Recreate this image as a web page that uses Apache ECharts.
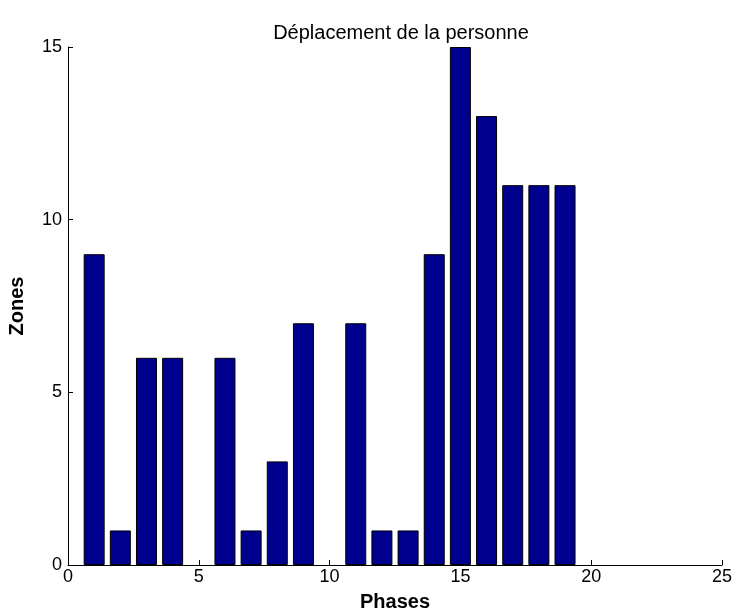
<!DOCTYPE html>
<html>
<head>
<meta charset="utf-8">
<script src="https://cdn.jsdelivr.net/npm/echarts@6/dist/echarts.min.js"></script>
<style>html,body{margin:0;padding:0;background:#fff}#c{width:738px;height:615px}</style>
</head>
<body>
<div id="c"></div>
<script>
var phases = [1,2,3,4,5,6,7,8,9,10,11,12,13,14,15,16,17,18,19];
var zones  = [9,1,6,6,0,6,1,3,7,0,7,1,1,9,15,13,11,11,11];
var xTicks = [0,5,10,15,20,25];
var yTicks = [0,5,10,15];

// zero-height bars draw nothing (as in the reference)
var data = phases.map(function(p,i){ return zones[i] > 0 ? [p, zones[i]] : null; })
                 .filter(function(d){ return d !== null; });
var chart = echarts.init(document.getElementById('c'), null, {renderer:'canvas'});
var font = 'Liberation Sans, Arial, Helvetica, sans-serif';
chart.setOption({
  animation:false,
  backgroundColor:'#fff',
  title:{text:'Déplacement de la personne', left:396, top:18, textAlign:'center',
    textStyle:{fontFamily:font, fontSize:20, fontWeight:'normal', color:'#000'}},
  grid:{left:68, right:16, top:47, bottom:50, containLabel:false, outerBoundsMode:'none'},
  xAxis:{type:'value', min:xTicks[0], max:xTicks[xTicks.length-1], interval:5,
    name:'Phases', nameLocation:'middle', nameGap:27,
    nameTextStyle:{fontFamily:font, fontSize:20, fontWeight:'bold', color:'#000'},
    axisLine:{show:true, lineStyle:{color:'#000', width:1}},
    axisTick:{show:true, inside:true, length:5, lineStyle:{color:'#000'}},
    axisLabel:{fontFamily:font, fontSize:18, color:'#000', margin:3},
    splitLine:{show:false}},
  yAxis:{type:'value', min:yTicks[0], max:yTicks[yTicks.length-1], interval:5,
    name:'Zones', nameLocation:'middle', nameGap:41, nameRotate:90,
    nameTextStyle:{fontFamily:font, fontSize:20, fontWeight:'bold', color:'#000'},
    axisLine:{show:true, lineStyle:{color:'#000', width:1}},
    axisTick:{show:true, inside:true, length:5, lineStyle:{color:'#000'}},
    axisLabel:{fontFamily:font, fontSize:18, color:'#000', margin:6},
    splitLine:{show:false}},
  series:[{type:'bar', data:data, barWidth:21,
    itemStyle:{color:'#00008f', borderColor:'#000', borderWidth:1}}]
});
</script>
</body>
</html>
